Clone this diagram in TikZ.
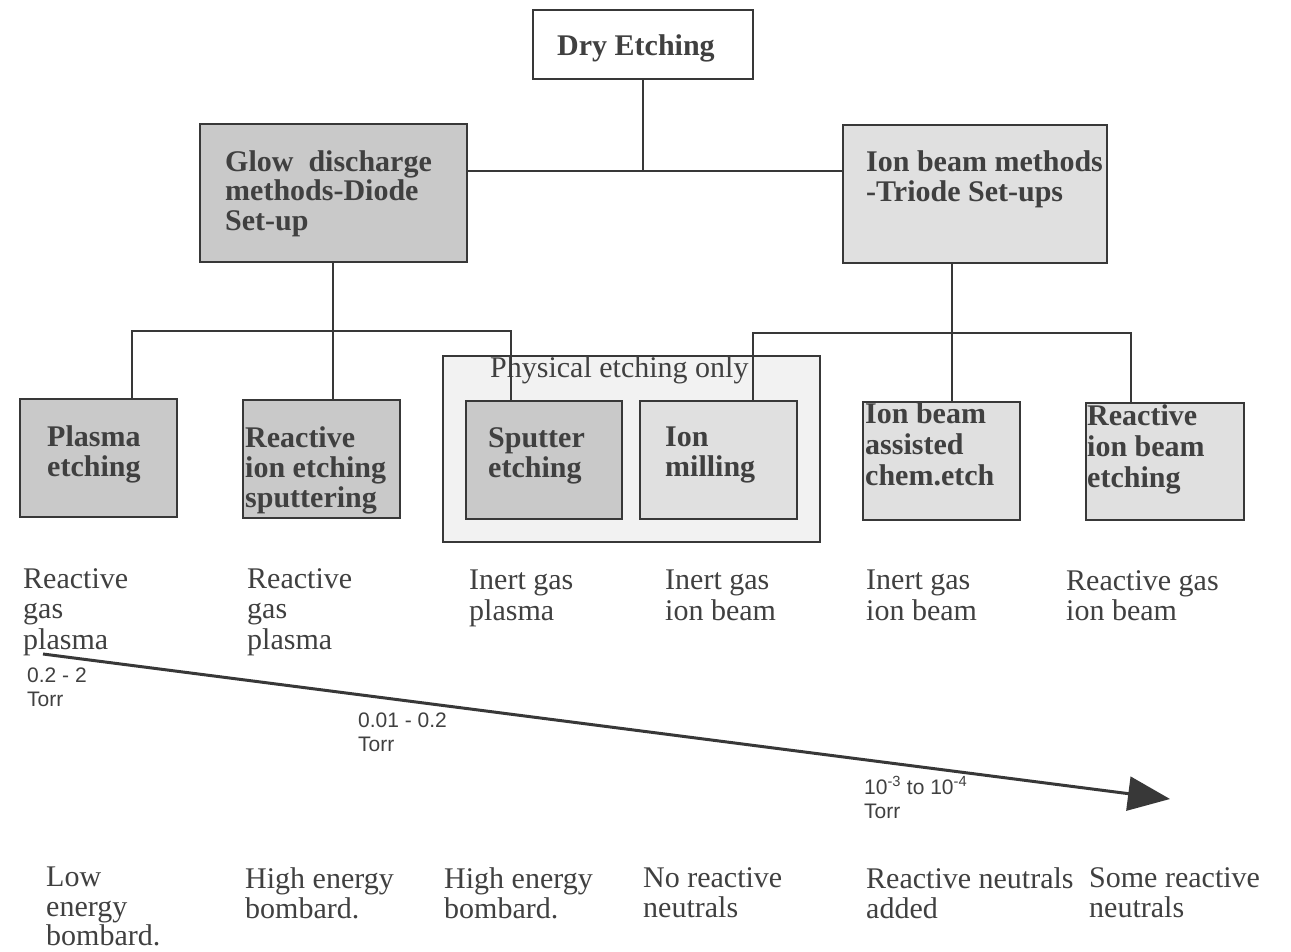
\documentclass[tikz,border=0pt]{standalone}
\usepackage{fontspec}
\setmainfont{Liberation Serif}
\newfontfamily\sansf{Liberation Sans}
\usetikzlibrary{arrows.meta}
\definecolor{linec}{gray}{0.22}
\definecolor{textc}{gray}{0.25}
\definecolor{darkfill}{gray}{0.79}
\definecolor{lightfill}{gray}{0.88}
\definecolor{physfill}{gray}{0.95}
\tikzset{
  box/.style={draw=linec, line width=2.5pt, rectangle, inner sep=0pt},
  conn/.style={draw=linec, line width=2.5pt},
  txt/.style={anchor=north west, inner sep=0pt, align=left, text=textc,
    font=\fontsize{30}{30.5}\selectfont},
  btxt/.style={anchor=north west, inner sep=0pt, align=left, text=textc,
    font=\fontsize{30}{30}\selectfont\bfseries},
  stxt/.style={anchor=north west, inner sep=0pt, align=left, text=textc,
    font=\sansf\fontsize{21}{24}\selectfont},
}
\begin{document}
\begin{tikzpicture}[x=1pt,y=-1pt]
\useasboundingbox[fill=white] (0,0) rectangle (1291,951);

% boxes
\node[box, fill=white, minimum width=220, minimum height=69] (dry) at (643,44.5) {};
\node[box, fill=darkfill, minimum width=267, minimum height=138] (glow) at (333.5,193) {};
\node[box, fill=lightfill, minimum width=264, minimum height=138] (ionm) at (975,194) {};
\node[box, fill=physfill, minimum width=377, minimum height=186] (phys) at (631.5,449) {};
\node[box, fill=darkfill, minimum width=157, minimum height=118] (plasma) at (98.5,458) {};
\node[box, fill=darkfill, minimum width=157, minimum height=118] (rie) at (321.5,459) {};
\node[box, fill=darkfill, minimum width=156, minimum height=118] (sputter) at (544,460) {};
\node[box, fill=lightfill, minimum width=157, minimum height=118] (mill) at (718.5,460) {};
\node[box, fill=lightfill, minimum width=157, minimum height=118] (ibae) at (941.5,461) {};
\node[box, fill=lightfill, minimum width=158, minimum height=117] (ribe) at (1165,461.5) {};

% box texts
\node[btxt] (tdry) at (557,34) {Dry Etching};
\node[btxt, font=\fontsize{30}{29.5}\selectfont\bfseries] (tglow) at (225,150) {Glow\ \ discharge\\methods-Diode\\Set-up};
\node[btxt] (tionm) at (866,150) {Ion beam methods\\-Triode Set-ups};
\node[txt] (tphys) at (490,356) {Physical etching only};
\node[btxt] (tplasma) at (47,425) {Plasma\\etching};
\node[btxt] (trie) at (245,426) {Reactive\\ion etching\\sputtering};
\node[btxt] (tsputter) at (488,427) {Sputter\\etching};
\node[btxt] (tmill) at (665,427) {Ion\\milling};
\node[btxt, font=\fontsize{30}{31}\selectfont\bfseries] (tibae) at (865,402) {Ion beam\\assisted\\chem.etch};
\node[btxt, font=\fontsize{30}{31}\selectfont\bfseries] (tribe) at (1087,404) {Reactive\\ion beam\\etching};

% connectors
\coordinate (hub) at (643,171);
\coordinate (gb) at (333,331);
\coordinate (lb1) at (132,331);
\coordinate (lb2) at (511,331);
\coordinate (rb1) at (753,333);
\coordinate (rbm) at (952,333);
\coordinate (rb2) at (1131,333);
\draw[conn] (dry.south) -- (hub);
\draw[conn] (glow.east |- hub) -- (ionm.west |- hub);
\draw[conn] (glow.south -| gb) -- (rie.north -| gb);
\draw[conn] (plasma.north -| lb1) -- (lb1) -- (lb2) -- (sputter.north -| lb2);
\draw[conn] (ionm.south -| rbm) -- (ibae.north -| rbm);
\draw[conn] (mill.north -| rb1) -- (rb1) -- (rb2) -- (ribe.north -| rb2);

% gas texts
\node[txt] (g1) at (23,568) {Reactive\\gas\\plasma};
\node[txt] (g2) at (247,568) {Reactive\\gas\\plasma};
\node[txt] (g3) at (469,570) {Inert gas\\plasma};
\node[txt] (g4) at (665,570) {Inert gas\\ion beam};
\node[txt] (g5) at (866,570) {Inert gas\\ion beam};
\node[txt] (g6) at (1066,570) {Reactive gas\\ion beam};

% pressure arrow
\coordinate (p0) at (43,654);
\coordinate (p1) at (1170,799);
\draw[draw=linec, line width=3pt, -{Triangle[length=42pt,width=34pt]}] (p0) -- (p1);
\node[stxt] (s1) at (27,668) {0.2 - 2\\Torr};
\node[stxt] (s2) at (358,713) {0.01 - 0.2\\Torr};
\node[stxt] (s3) at (864,776) {10\textsuperscript{-3} to 10\textsuperscript{-4}\\Torr};

% bottom texts
\node[txt, font=\fontsize{30}{29.5}\selectfont] (b1) at (46,867) {Low\\energy\\bombard.};
\node[txt] (b2) at (245,867) {High energy\\bombard.};
\node[txt] (b3) at (444,867) {High energy\\bombard.};
\node[txt] (b4) at (643,867) {No reactive\\neutrals};
\node[txt] (b5) at (866,867) {Reactive neutrals\\added};
\node[txt] (b6) at (1089,867) {Some reactive\\neutrals};
\end{tikzpicture}
\end{document}
